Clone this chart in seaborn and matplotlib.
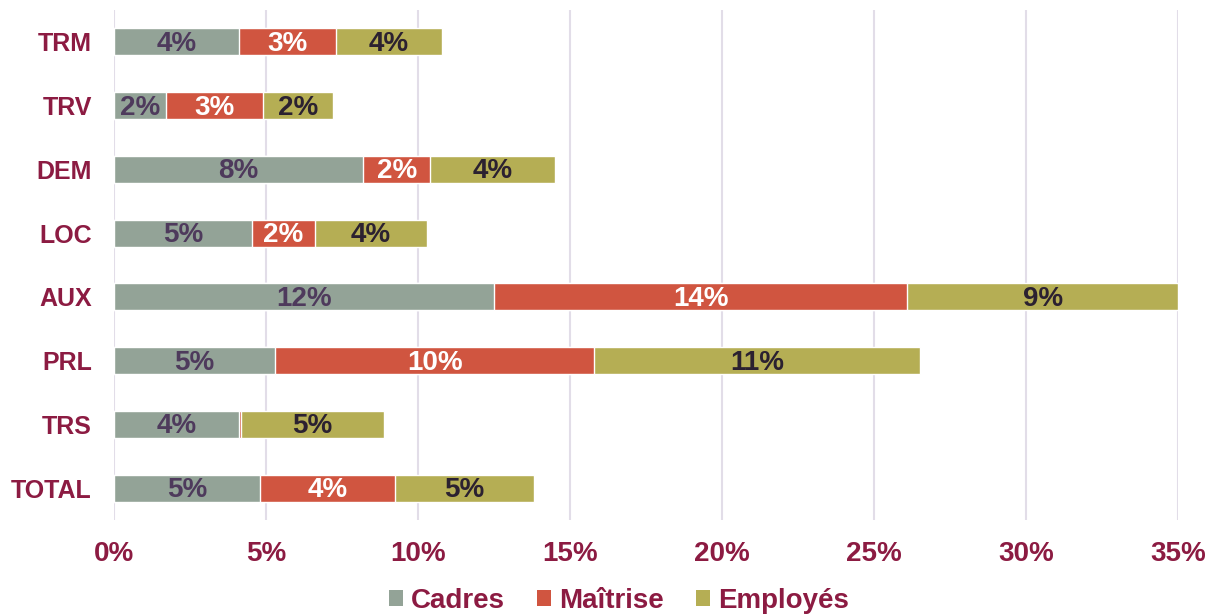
import matplotlib
matplotlib.use("Agg")
import matplotlib.pyplot as plt
import seaborn as sns
import pandas as pd
import numpy as np
from matplotlib.patches import Patch

categories = ["TRM", "TRV", "DEM", "LOC", "AUX", "PRL", "TRS", "TOTAL"]
cadres = [4.1, 1.7, 8.2, 4.55, 12.5, 5.3, 4.1, 4.8]
maitrise = [3.2, 3.2, 2.2, 2.05, 13.6, 10.5, 0.07, 4.45]
employes = [3.5, 2.3, 4.1, 3.7, 8.9, 10.7, 4.7, 4.55]
series_names = ["Cadres", "Maîtrise", "Employés"]
xticks = [0, 5, 10, 15, 20, 25, 30, 35]

c_cad = "#93A397"
c_mai = "#D05540"
c_emp = "#B5AE54"
maroon = "#8C1B42"

sns.set_theme(style="white")
plt.rcParams["font.family"] = ["Liberation Sans", "DejaVu Sans"]

df = pd.DataFrame({"cat": categories, "Cadres": cadres,
                   "Maîtrise": maitrise, "Employés": employes})
df["c1"] = df["Cadres"]
df["c2"] = df["Cadres"] + df["Maîtrise"]
df["c3"] = df["c2"] + df["Employés"]

fig = plt.figure(figsize=(12.09, 6.15), dpi=100)
ax = fig.add_axes([114/1209, 1 - 520/615, (1178-114)/1209, 510/615])

for col, color in [("c3", c_emp), ("c2", c_mai), ("c1", c_cad)]:
    sns.barplot(data=df, y="cat", x=col, color=color, orient="h", width=0.42,
                edgecolor="white", linewidth=1.0, ax=ax, saturation=1)

lefts = [np.zeros(len(df)), df["c1"].values, df["c2"].values]
vals = [df["Cadres"].values, df["Maîtrise"].values, df["Employés"].values]
lcolors = ["#4E3A5C", "white", "#2B2130"]
for left, v, lc in zip(lefts, vals, lcolors):
    for i in range(len(df)):
        if v[i] >= 0.5:
            ax.text(left[i] + v[i] / 2, i + 0.03, f"{round(v[i]):.0f}%",
                    ha="center", va="center", color=lc, fontsize=20,
                    fontweight="bold")

ax.set_xlim(0, 35)
ax.set_ylim(len(df) - 0.5, -0.5)
ax.set_xticks(xticks)
ax.set_xticklabels([f"{t}%" for t in xticks])
ax.set_xlabel("")
ax.set_ylabel("")
ax.xaxis.grid(True, color="#E2DDE8", linewidth=1.5)
ax.set_axisbelow(True)
for s in ax.spines.values():
    s.set_visible(False)
ax.tick_params(axis="both", length=0)
ax.tick_params(axis="y", pad=16)
ax.tick_params(axis="x", pad=15)
for lab in ax.get_yticklabels():
    lab.set_color(maroon); lab.set_fontweight("bold"); lab.set_fontsize(18)
for lab in ax.get_xticklabels():
    lab.set_color(maroon); lab.set_fontweight("bold"); lab.set_fontsize(20)

handles = [Patch(facecolor=c, edgecolor="none") for c in (c_cad, c_mai, c_emp)]
leg = fig.legend(handles, series_names, loc="center", bbox_to_anchor=(619/1209, 1 - 601/615),
                 ncol=3, frameon=False, handlelength=0.5, handleheight=0.5,
                 handletextpad=0.3, columnspacing=1.15,
                 prop={"weight": "bold", "size": 20})
for t in leg.get_texts():
    t.set_color(maroon)

fig.savefig("out.png", dpi=100)
